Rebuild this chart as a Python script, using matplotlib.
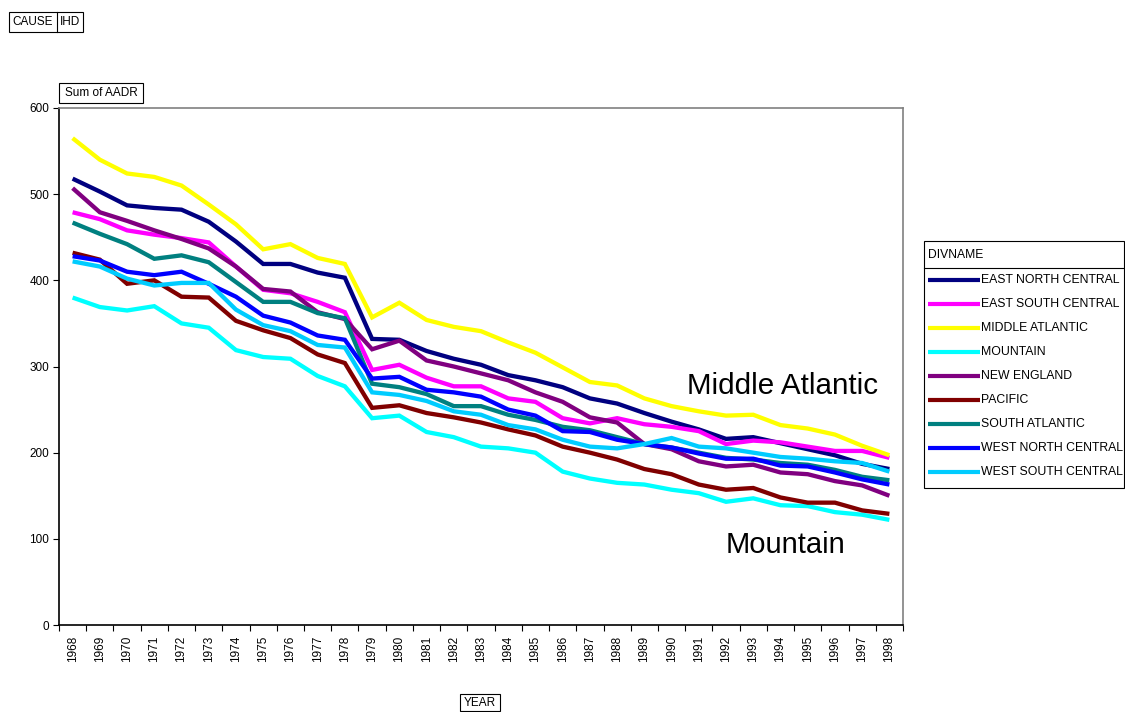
import matplotlib
matplotlib.use("Agg")
import matplotlib.pyplot as plt
from matplotlib.lines import Line2D
from matplotlib.patches import Rectangle

plt.rcParams['font.family'] = ['Liberation Sans', 'DejaVu Sans']

years = list(range(1968, 1999))

divisions = ["EAST NORTH CENTRAL", "EAST SOUTH CENTRAL", "MIDDLE ATLANTIC", "MOUNTAIN",
             "NEW ENGLAND", "PACIFIC", "SOUTH ATLANTIC", "WEST NORTH CENTRAL",
             "WEST SOUTH CENTRAL"]

east_north_central = [518, 503, 487, 484, 482, 468, 445, 419, 419, 409, 403, 332, 331, 318, 309, 302,
                      290, 284, 276, 263, 257, 246, 236, 227, 216, 218, 211, 204, 197, 187, 181]
east_south_central = [479, 471, 458, 453, 449, 444, 416, 389, 385, 375, 363, 296, 302, 287, 277, 277,
                      263, 259, 240, 234, 240, 233, 230, 225, 210, 214, 212, 207, 202, 202, 194]
middle_atlantic = [565, 540, 524, 520, 510, 488, 465, 436, 442, 426, 419, 357, 374, 354, 346, 341,
                   328, 316, 299, 282, 278, 263, 254, 248, 243, 244, 232, 228, 221, 208, 197]
mountain = [380, 369, 365, 370, 350, 345, 319, 311, 309, 289, 277, 240, 243, 224, 218, 207,
            205, 200, 178, 170, 165, 163, 157, 153, 143, 147, 139, 138, 131, 128, 122]
new_england = [507, 479, 469, 458, 448, 437, 416, 390, 387, 363, 355, 320, 330, 307, 300, 292,
               284, 270, 259, 241, 235, 210, 204, 190, 184, 186, 177, 175, 167, 162, 150]
pacific = [432, 424, 396, 400, 381, 380, 353, 342, 333, 314, 304, 252, 255, 246, 241, 235,
           227, 220, 207, 200, 192, 181, 175, 163, 157, 159, 148, 142, 142, 133, 129]
south_atlantic = [467, 454, 442, 425, 429, 421, 398, 375, 375, 362, 356, 280, 276, 268, 254, 254,
                  244, 238, 230, 226, 218, 210, 206, 200, 194, 192, 188, 186, 180, 172, 168]
west_north_central = [428, 423, 410, 406, 410, 396, 381, 359, 351, 336, 331, 286, 288, 273, 270, 265,
                      250, 243, 225, 224, 215, 210, 206, 199, 193, 193, 185, 184, 177, 169, 163]
west_south_central = [422, 416, 402, 394, 397, 397, 366, 348, 341, 325, 322, 270, 267, 260, 248, 244,
                      232, 227, 215, 207, 205, 210, 217, 207, 205, 200, 195, 193, 190, 188, 178]

series = [east_north_central, east_south_central, middle_atlantic, mountain, new_england,
          pacific, south_atlantic, west_north_central, west_south_central]
colors = ["#000080", "#FF00FF", "#FFFF00", "#00FFFF", "#800080", "#800000", "#008080",
          "#0000FF", "#00CCFF"]

W, H = 1125, 712
fig = plt.figure(figsize=(W / 100, H / 100), dpi=100)

def fx(px):
    return px / W

def fy(py):
    return 1 - py / H

# main axes
ax = fig.add_axes([fx(59), fy(625), fx(903) - fx(59), fy(108) - fy(625)])
x = list(range(len(years)))
for vals, c in zip(series, colors):
    ax.plot(x, vals, color=c, lw=3.1, solid_joinstyle='miter', solid_capstyle='butt')

ax.set_xlim(-0.5, len(years) - 0.5)
ax.set_ylim(0, 600)
ax.set_yticks([0, 100, 200, 300, 400, 500, 600])
ax.set_xticks(x)
ax.set_xticklabels([str(y) for y in years], rotation=90, fontsize=8.5)
ax.set_xticks([i - 0.5 for i in range(len(years) + 1)], minor=True)
ax.tick_params(axis='x', which='major', length=0, pad=8)
ax.tick_params(axis='x', which='minor', length=4, width=0.8, direction='out')
ax.tick_params(axis='y', length=4, width=0.8, direction='out', labelsize=8.5, pad=3)
for s in ['left', 'bottom']:
    ax.spines[s].set_color('black')
    ax.spines[s].set_linewidth(1.2)
for s in ['top', 'right']:
    ax.spines[s].set_color('#808080')
    ax.spines[s].set_linewidth(1.2)

ax.text(len(years) - 1 - 0.4, 277, "Middle Atlantic", fontsize=21.3, ha='right', va='center')
ax.text(len(years) - 1 - 1.6, 93, "Mountain", fontsize=21, ha='right', va='center')

# boxed field labels
def boxed(px0, py0, px1, py1, text, fs=8.5):
    fig.patches.append(Rectangle((fx(px0), fy(py1)), fx(px1) - fx(px0), fy(py0) - fy(py1),
                                 transform=fig.transFigure, fill=False, ec='black', lw=0.8))
    fig.text(fx((px0 + px1) / 2), fy((py0 + py1) / 2), text, fontsize=fs, ha='center', va='center')

# CAUSE | IHD
fig.patches.append(Rectangle((fx(9), fy(32)), fx(83) - fx(9), fy(12) - fy(32),
                             transform=fig.transFigure, fill=False, ec='black', lw=0.8))
fig.add_artist(Line2D([fx(57), fx(57)], [fy(12), fy(32)], transform=fig.transFigure,
                      color='black', lw=0.8))
fig.text(fx(33), fy(22), "CAUSE", fontsize=8.5, ha='center', va='center')
fig.text(fx(70), fy(22), "IHD", fontsize=8.5, ha='center', va='center')

boxed(59, 83, 143, 103, "Sum of AADR")
boxed(460, 694, 500, 711, "YEAR")

# legend
lx0, ly0, lx1, ly1 = 924, 241, 1124, 488
fig.patches.append(Rectangle((fx(lx0), fy(ly1)), fx(lx1) - fx(lx0), fy(ly0) - fy(ly1),
                             transform=fig.transFigure, fill=False, ec='black', lw=0.8))
fig.add_artist(Line2D([fx(lx0), fx(lx1)], [fy(268), fy(268)], transform=fig.transFigure,
                      color='black', lw=0.8))
fig.text(fx(928), fy(255), "DIVNAME", fontsize=8.7, ha='left', va='center')
for i, (name, c) in enumerate(zip(divisions, colors)):
    yy = 280 + 24 * i
    fig.add_artist(Line2D([fx(928), fx(980)], [fy(yy), fy(yy)], transform=fig.transFigure,
                          color=c, lw=3.0, solid_capstyle='butt'))
    fig.text(fx(981), fy(yy), name, fontsize=8.8, ha='left', va='center')

fig.savefig("out.png", dpi=100)
